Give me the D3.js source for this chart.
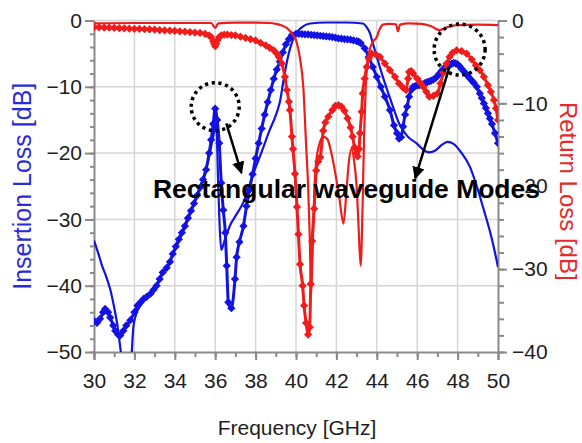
<!DOCTYPE html>
<html>
<head>
<meta charset="utf-8">
<script src="https://cdn.jsdelivr.net/npm/d3@7"></script>
<style>
	body { margin: 0; background: #fff; }
	svg { display: block; font-family: "Liberation Sans", Arial, sans-serif; }
</style>
</head>
<body>
<svg width="582" height="443"></svg>
<script>
// Measured insertion loss (blue, with markers) - left axis
const ilMeasFreq = [30.0, 30.15, 30.3, 30.45, 30.55, 30.7, 30.8, 30.95, 31.05, 31.2, 31.3, 31.45, 31.6, 31.8, 32.0, 32.15, 32.3, 32.45, 32.6, 32.8, 32.95, 33.1, 33.25, 33.4, 33.6, 33.76, 33.9, 34.05, 34.2, 34.35, 34.5, 34.65, 34.8, 34.95, 35.1, 35.25, 35.4, 35.55, 35.7, 35.8, 35.9, 36.0, 36.1, 36.2, 36.3, 36.4, 36.5, 36.57, 36.65, 36.8, 36.98, 37.06, 37.2, 37.4, 37.55, 37.7, 37.85, 38.0, 38.15, 38.3, 38.45, 38.6, 38.75, 38.9, 39.05, 39.2, 39.35, 39.5, 39.65, 39.8, 40.0, 40.15, 40.3, 40.45, 40.6, 40.75, 40.9, 41.05, 41.2, 41.35, 41.5, 41.65, 41.8, 41.95, 42.1, 42.25, 42.4, 42.55, 42.7, 42.85, 43.0, 43.1, 43.2, 43.4, 43.6, 43.8, 44.0, 44.2, 44.4, 44.65, 44.85, 45.0, 45.1, 45.2, 45.3, 45.4, 45.5, 45.6, 45.7, 45.8, 45.9, 46.0, 46.1, 46.2, 46.3, 46.4, 46.5, 46.6, 46.7, 46.8, 46.9, 47.0, 47.1, 47.2, 47.3, 47.4, 47.5, 47.6, 47.7, 47.8, 47.9, 48.0, 48.1, 48.2, 48.3, 48.4, 48.5, 48.6, 48.7, 48.8, 48.95, 49.1, 49.2, 49.3, 49.4, 49.5, 49.6, 49.7, 49.85, 50.0];
const ilMeas = [-45.3, -45.6, -45.0, -44.0, -43.5, -44.0, -44.8, -46.0, -46.8, -47.4, -47.5, -46.8, -46.0, -45.2, -44.0, -43.0, -42.5, -42.0, -41.7, -41.2, -40.6, -40.0, -39.0, -38.0, -37.3, -36.4, -35.2, -34.1, -33.0, -32.0, -31.0, -29.8, -28.7, -27.6, -26.4, -25.2, -24.0, -22.5, -20.0, -18.0, -15.6, -13.3, -15.0, -18.5, -24.5, -28.6, -32.0, -37.0, -42.5, -43.4, -39.0, -35.7, -33.4, -31.0, -28.0, -25.5, -23.2, -20.8, -18.5, -16.3, -14.2, -12.3, -10.5, -8.8, -7.4, -6.2, -4.8, -3.6, -2.8, -2.2, -2.0, -2.0, -2.05, -2.1, -2.1, -2.15, -2.2, -2.25, -2.3, -2.35, -2.4, -2.45, -2.5, -2.6, -2.7, -2.75, -2.8, -2.85, -2.9, -3.0, -3.1, -3.2, -3.4, -4.2, -5.5, -7.0, -8.5, -10.0, -11.5, -13.5, -15.8, -17.0, -17.8, -17.6, -16.0, -14.2, -13.0, -11.5, -10.5, -10.0, -9.9, -9.8, -9.75, -9.7, -9.6, -9.4, -9.3, -9.2, -9.05, -8.9, -8.7, -8.4, -8.0, -7.6, -7.3, -7.0, -6.85, -6.7, -6.55, -6.4, -6.45, -6.6, -6.9, -7.3, -7.65, -8.0, -8.35, -8.7, -9.05, -9.4, -10.0, -11.0, -11.7, -12.5, -13.2, -14.0, -14.8, -15.6, -17.0, -18.5];

// Simulated insertion loss (blue, solid) - left axis
const ilSimFreq = [30.0, 30.2, 30.4, 30.6, 30.8, 31.0, 31.15, 31.3, 31.45, 31.62, 31.87, 31.95, 32.1, 32.3, 32.45, 32.7, 33.0, 33.4, 33.8, 34.2, 34.6, 35.0, 35.4, 35.7, 35.9, 36.05, 36.15, 36.22, 36.3, 36.45, 36.6, 36.75, 37.0, 37.4, 37.9, 38.3, 38.7, 39.0, 39.2, 39.4, 39.6, 39.8, 40.0, 40.3, 40.7, 41.5, 42.5, 43.3, 43.5, 43.66, 43.8, 44.05, 44.3, 44.55, 44.8, 45.1, 45.5, 46.0, 46.3, 46.6, 46.9, 47.2, 47.5, 47.8, 48.2, 48.6, 48.95, 49.3, 49.6, 49.85, 50.0];
const ilSim = [-33.2, -35.0, -37.0, -38.6, -40.5, -43.3, -45.8, -49.3, -53.0, -62.0, -50.0, -46.2, -44.2, -43.0, -42.4, -41.6, -40.4, -38.2, -36.0, -33.3, -30.4, -27.2, -23.8, -20.5, -17.5, -15.5, -25.0, -31.0, -34.6, -33.3, -32.0, -30.8, -29.5, -27.4, -23.0, -19.8, -16.5, -14.3, -12.3, -8.7, -5.5, -3.3, -2.0, -1.0, -0.45, -0.3, -0.3, -0.45, -1.0, -1.9, -3.4, -6.0, -8.5, -10.8, -13.0, -15.5, -17.4, -18.6, -19.5, -19.9, -19.6, -18.8, -18.3, -18.6, -20.0, -22.0, -25.0, -28.6, -31.8, -35.0, -37.2];

// Measured return loss (red, with markers) - right axis
const rlMeasFreq = [30.0, 30.25, 30.5, 30.75, 31.0, 31.25, 31.5, 31.75, 32.0, 32.25, 32.5, 32.75, 33.0, 33.25, 33.5, 33.75, 34.0, 34.25, 34.5, 34.75, 35.0, 35.25, 35.5, 35.7, 35.8, 35.9, 35.95, 36.0, 36.05, 36.1, 36.2, 36.3, 36.45, 36.6, 36.8, 37.0, 37.25, 37.5, 37.75, 38.0, 38.25, 38.5, 38.7, 38.9, 39.05, 39.15, 39.3, 39.45, 39.55, 39.65, 39.7, 39.8, 39.85, 39.95, 40.05, 40.12, 40.2, 40.33, 40.4, 40.5, 40.6, 40.68, 40.73, 40.8, 40.9, 41.0, 41.1, 41.2, 41.35, 41.45, 41.6, 41.8, 41.95, 42.1, 42.25, 42.4, 42.55, 42.7, 42.8, 42.9, 43.0, 43.05, 43.12, 43.17, 43.25, 43.3, 43.4, 43.5, 43.6, 43.75, 43.95, 44.16, 44.4, 44.65, 44.9, 45.1, 45.3, 45.45, 45.55, 45.6, 45.7, 45.8, 46.0, 46.15, 46.3, 46.45, 46.6, 46.8, 47.0, 47.15, 47.3, 47.45, 47.6, 47.75, 47.95, 48.2, 48.45, 48.7, 48.9, 49.1, 49.3, 49.5, 49.65, 49.8, 49.9, 50.0];
const rlMeas = [-0.8, -0.82, -0.85, -0.87, -0.9, -0.92, -0.95, -0.97, -1.0, -1.02, -1.05, -1.07, -1.1, -1.15, -1.2, -1.22, -1.25, -1.3, -1.35, -1.4, -1.45, -1.5, -1.6, -1.8, -2.0, -2.5, -2.8, -3.1, -2.8, -2.4, -2.0, -1.8, -1.7, -1.7, -1.75, -1.8, -1.95, -2.1, -2.25, -2.4, -2.7, -3.0, -3.3, -3.6, -4.0, -4.4, -5.2, -6.8, -8.4, -9.8, -10.8, -14.0, -15.5, -18.5, -22.5, -25.8, -29.4, -32.0, -34.4, -36.5, -37.9, -37.0, -31.8, -26.6, -22.7, -18.1, -17.0, -16.5, -13.3, -12.3, -11.6, -10.8, -10.3, -10.2, -10.4, -10.9, -11.8, -12.9, -14.0, -15.3, -16.0, -16.4, -15.5, -13.6, -11.0, -8.8, -7.0, -5.6, -4.6, -4.0, -4.1, -4.4, -5.2, -6.0, -6.8, -7.6, -8.1, -8.4, -7.0, -6.2, -6.1, -6.4, -7.0, -7.5, -8.0, -8.6, -9.2, -9.1, -8.8, -7.6, -6.3, -5.2, -4.4, -3.9, -3.6, -3.7, -4.0, -4.7, -5.4, -6.0, -6.8, -7.8, -8.6, -9.6, -10.6, -12.0];

// Simulated return loss (red, solid) - right axis
const rlSimFreq = [30.0, 32.0, 34.0, 35.8, 36.0, 36.15, 37.0, 38.0, 38.7, 39.0, 39.3, 39.54, 39.8, 40.03, 40.2, 40.36, 40.5, 40.6, 40.68, 40.75, 40.82, 40.9, 41.0, 41.15, 41.35, 41.55, 41.75, 41.95, 42.15, 42.35, 42.5, 42.62, 42.75, 42.88, 43.0, 43.1, 43.2, 43.3, 43.37, 43.45, 43.6, 43.8, 44.0, 44.15, 44.3, 44.6, 44.95, 45.05, 45.15, 45.6, 46.2, 46.7, 47.1, 47.5, 47.95, 49.0, 50.0];
const rlSim = [-0.35, -0.3, -0.3, -0.3, -0.9, -0.35, -0.25, -0.25, -0.3, -0.4, -0.6, -0.9, -1.6, -2.6, -4.6, -8.0, -15.0, -20.0, -26.0, -33.0, -28.0, -21.0, -17.0, -15.0, -14.0, -14.3, -16.0, -18.5, -21.5, -24.5, -20.5, -17.0, -15.5, -17.0, -20.0, -25.0, -29.6, -22.0, -14.0, -8.0, -4.0, -2.6, -2.0, -1.0, -0.5, -0.4, -0.45, -1.3, -0.5, -0.35, -0.4, -0.7, -1.15, -0.8, -0.55, -0.5, -0.55];

// Axis ticks
const freqTicks = [30, 32, 34, 36, 38, 40, 42, 44, 46, 48, 50];
const ilTicks = [0, -10, -20, -30, -40, -50];
const rlTicks = [0, -10, -20, -30, -40];

const blue = "#1212e4";
const red = "#f01c1c";

const svg = d3.select("svg");
const plotLeft = 94, plotRight = 498, plotTop = 20.5, plotBottom = 352;

const x = d3.scaleLinear().domain([30, 50]).range([plotLeft, plotRight]);
const yL = d3.scaleLinear().domain([-50, 0]).range([plotBottom, plotTop]);
const yR = d3.scaleLinear().domain([-40, 0]).range([plotBottom, plotTop]);

const defs = svg.append("defs");
defs.append("clipPath").attr("id", "plot")
	.append("rect").attr("x", plotLeft).attr("y", plotTop - 6)
	.attr("width", plotRight - plotLeft).attr("height", plotBottom - plotTop + 6);

// Grid
const grid = svg.append("g").attr("stroke", "#d6d6d6").attr("stroke-width", 1.5);
grid.selectAll(".vg").data(freqTicks.slice(1, -1)).enter().append("line")
	.attr("x1", (d) => x(d)).attr("x2", (d) => x(d))
	.attr("y1", plotTop).attr("y2", plotBottom);
grid.selectAll(".hg").data(ilTicks.slice(0, -1)).enter().append("line")
	.attr("x1", plotLeft).attr("x2", plotRight)
	.attr("y1", (d) => yL(d)).attr("y2", (d) => yL(d));

// Axes
function styleAxis(g) {
	g.selectAll("path, line").attr("stroke", "#8a8a8a").attr("stroke-width", 2);
	g.selectAll("text").attr("fill", "#1e1e1e").attr("font-size", 21)
		.attr("font-family", "Liberation Sans, Arial, sans-serif");
}

svg.append("g").attr("transform", `translate(0,${plotBottom})`)
	.call(d3.axisBottom(x).ticks(20).tickSize(5).tickFormat(""))
	.call(styleAxis).select(".domain").remove();
svg.append("g").attr("transform", `translate(0,${plotBottom})`)
	.call(d3.axisBottom(x).tickValues(freqTicks).tickSize(8).tickPadding(13).tickFormat(d3.format("d")))
	.call(styleAxis);

svg.append("g").attr("transform", `translate(${plotLeft},0)`)
	.call(d3.axisLeft(yL).ticks(25).tickSize(4).tickFormat(""))
	.call(styleAxis).select(".domain").remove();
svg.append("g").attr("transform", `translate(${plotLeft},0)`)
	.call(d3.axisLeft(yL).tickValues(ilTicks).tickSize(9).tickPadding(3).tickSizeOuter(0).tickFormat(d3.format("d")))
	.call(styleAxis);

svg.append("g").attr("transform", `translate(${plotRight},0)`)
	.call(d3.axisRight(yR).ticks(20).tickSize(6).tickFormat(""))
	.call(styleAxis).select(".domain").remove();
svg.append("g").attr("transform", `translate(${plotRight},0)`)
	.call(d3.axisRight(yR).tickValues(rlTicks).tickSize(9).tickPadding(5).tickSizeOuter(0).tickFormat(d3.format("d")))
	.call(styleAxis);

// Axis titles
svg.append("text").text("Insertion Loss [dB]")
	.attr("transform", `translate(31,${(plotTop + plotBottom) / 2}) rotate(-90)`)
	.attr("text-anchor", "middle").attr("font-size", 25).attr("fill", "#2a2ad6");
svg.append("text").text("Return Loss [dB]")
	.attr("transform", `translate(560,${(plotTop + plotBottom) / 2 + 5}) rotate(90)`)
	.attr("text-anchor", "middle").attr("font-size", 24).attr("fill", "#e62a2a");
svg.append("text").text("Frequency [GHz]")
	.attr("x", (plotLeft + plotRight) / 2 + 1).attr("y", 435)
	.attr("text-anchor", "middle").attr("font-size", 21).attr("fill", "#1e1e1e");

// Curves
const plot = svg.append("g").attr("clip-path", "url(#plot)");

function drawSeries(freq, vals, y, color, width, markers) {
	const pts = freq.map((f, i) => [f, vals[i]]);
	const line = d3.line().x((d) => x(d[0])).y((d) => y(d[1])).curve(d3.curveMonotoneX);
	plot.append("path").datum(pts).attr("d", line)
		.attr("fill", "none").attr("stroke", color).attr("stroke-width", width)
		.attr("stroke-linejoin", "round");
	if (markers) {
		plot.selectAll(null).data(pts).enter().append("path")
			.attr("d", d3.symbol(d3.symbolSquare, 34)())
			.attr("transform", (d) => `translate(${x(d[0])},${y(d[1])}) rotate(45)`)
			.attr("fill", color);
	}
}

drawSeries(ilSimFreq, ilSim, yL, blue, 2.2, false);
drawSeries(ilMeasFreq, ilMeas, yL, blue, 3, true);
drawSeries(rlSimFreq, rlSim, yR, red, 2.2, false);
drawSeries(rlMeasFreq, rlMeas, yR, red, 3, true);

// Annotations
const note = svg.append("g");
note.append("circle").attr("cx", x(36.0)).attr("cy", yL(-13.0)).attr("r", 24);
note.append("circle").attr("cx", x(48.1)).attr("cy", yR(-3.5)).attr("r", 25.5);
note.selectAll("circle").attr("fill", "none").attr("stroke", "#000")
	.attr("stroke-width", 3.5).attr("stroke-dasharray", "3.2,3.6");

defs.append("marker").attr("id", "head")
	.attr("viewBox", "0 0 10 10").attr("refX", 9).attr("refY", 5)
	.attr("markerWidth", 5).attr("markerHeight", 5).attr("orient", "auto")
	.append("path").attr("d", "M0,0L10,5L0,10Z").attr("fill", "#000");

const arrows = [
	[[36.55, -15.5], [37.3, -23.0]],
	[[47.6, -7.0], [45.9, -23.8]]
];
note.selectAll(".arrow").data(arrows).enter().append("line")
	.attr("x1", (d) => x(d[0][0])).attr("y1", (d) => yL(d[0][1]))
	.attr("x2", (d) => x(d[1][0])).attr("y2", (d) => yL(d[1][1]))
	.attr("stroke", "#000").attr("stroke-width", 2.5)
	.attr("marker-end", "url(#head)");

note.append("text").text("Rectangular waveguide Modes")
	.attr("x", 153).attr("y", 198)
	.attr("font-size", 26).attr("font-weight", "bold").attr("fill", "#000")
	.attr("textLength", 387).attr("lengthAdjust", "spacingAndGlyphs");
</script>
</body>
</html>
